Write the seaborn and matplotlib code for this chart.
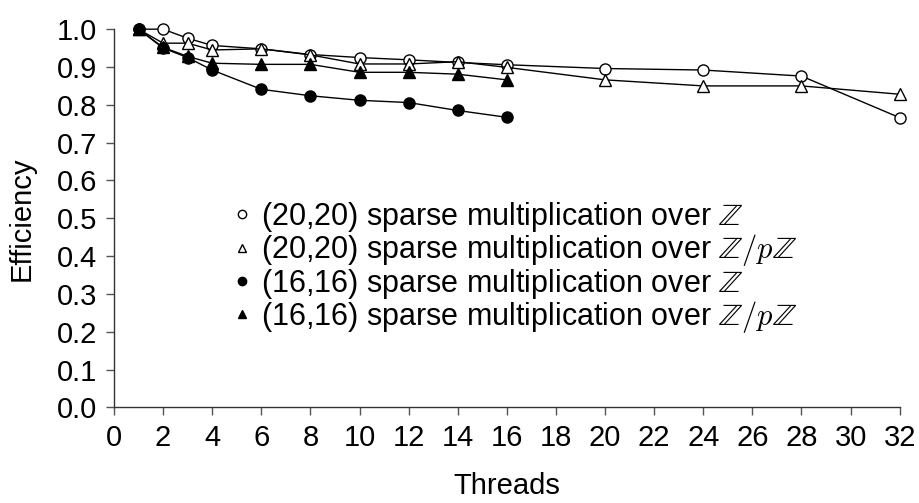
import numpy as np
import pandas as pd
import matplotlib
matplotlib.use("Agg")
import matplotlib.pyplot as plt
from matplotlib.lines import Line2D
import seaborn as sns

# data
threads_20 = [1, 2, 3, 4, 6, 8, 10, 12, 14, 16, 20, 24, 28, 32]
eff_20_Z = [1.0, 1.0, 0.976, 0.957, 0.948, 0.933, 0.925, 0.919, 0.912, 0.906, 0.896, 0.892, 0.876, 0.766]
eff_20_ZpZ = [1.0, 0.963, 0.963, 0.945, 0.948, 0.932, 0.908, 0.908, 0.914, 0.899, 0.866, 0.850, 0.850, 0.828]
threads_16 = [1, 2, 3, 4, 6, 8, 10, 12, 14, 16]
eff_16_Z = [1.0, 0.950, 0.925, 0.892, 0.841, 0.824, 0.812, 0.806, 0.785, 0.767]
eff_16_ZpZ = [1.0, 0.952, 0.928, 0.910, 0.907, 0.907, 0.886, 0.886, 0.881, 0.866]

labels = [r"(20,20) sparse multiplication over $\mathbb{Z}$",
          r"(20,20) sparse multiplication over $\mathbb{Z}/p\mathbb{Z}$",
          r"(16,16) sparse multiplication over $\mathbb{Z}$",
          r"(16,16) sparse multiplication over $\mathbb{Z}/p\mathbb{Z}$"]

sns.set_style("white")
plt.rcParams['font.family'] = ['Liberation Sans', 'DejaVu Sans']
plt.rcParams['mathtext.fontset'] = 'cm'
plt.rcParams['text.color'] = 'black'
plt.rcParams['axes.labelcolor'] = 'black'

frames = []
for lab, x, y in zip(labels, [threads_20, threads_20, threads_16, threads_16],
                     [eff_20_Z, eff_20_ZpZ, eff_16_Z, eff_16_ZpZ]):
    frames.append(pd.DataFrame({"threads": x, "eff": y, "series": lab}))
df = pd.concat(frames)

styles = {labels[0]: ("o", "white"), labels[1]: ("^", "white"),
          labels[2]: ("o", "black"), labels[3]: ("^", "black")}

fig = plt.figure(figsize=(9.19, 5.03), dpi=100)
ax = fig.add_axes([0.124, 0.190, 0.855, 0.752])

for lab in labels:
    m, fc = styles[lab]
    sub = df[df["series"] == lab]
    sns.lineplot(data=sub, x="threads", y="eff", ax=ax, color="black", linewidth=1,
                 marker=m, markersize=8 if m == "o" else 9, markerfacecolor=fc,
                 markeredgecolor="black", markeredgewidth=1, clip_on=False, zorder=3)

ax.set_xlim(0, 32)
ax.set_ylim(0, 1.0)
ax.set_xticks(range(0, 33, 2))
ax.set_yticks(np.arange(0, 1.01, 0.1))
ax.set_yticklabels(["{:.1f}".format(v) for v in np.arange(0, 1.01, 0.1)])
ax.tick_params(axis="both", direction="out", length=6, width=1, color="#555555",
               labelcolor="black", labelsize=21, pad=6, left=True, bottom=True)
for s in ["top", "right"]:
    ax.spines[s].set_visible(False)
for s in ["left", "bottom"]:
    ax.spines[s].set_color("#333333")
    ax.spines[s].set_linewidth(1)

ax.set_xlabel("Threads", fontsize=21, labelpad=14)
ax.set_ylabel("Efficiency", fontsize=21, labelpad=15)

handles = []
for lab in labels:
    m, fc = styles[lab]
    handles.append(Line2D([], [], linestyle="none", marker=m, markersize=6,
                          markerfacecolor=fc, markeredgecolor="black", markeredgewidth=1))
ax.legend(handles, labels, loc="center left", bbox_to_anchor=(0.152, 0.37), frameon=False,
          fontsize=22, handlelength=0.55, handletextpad=0.35, labelspacing=-0.05,
          borderaxespad=0, borderpad=0)

fig.savefig("out.png", dpi=100)
